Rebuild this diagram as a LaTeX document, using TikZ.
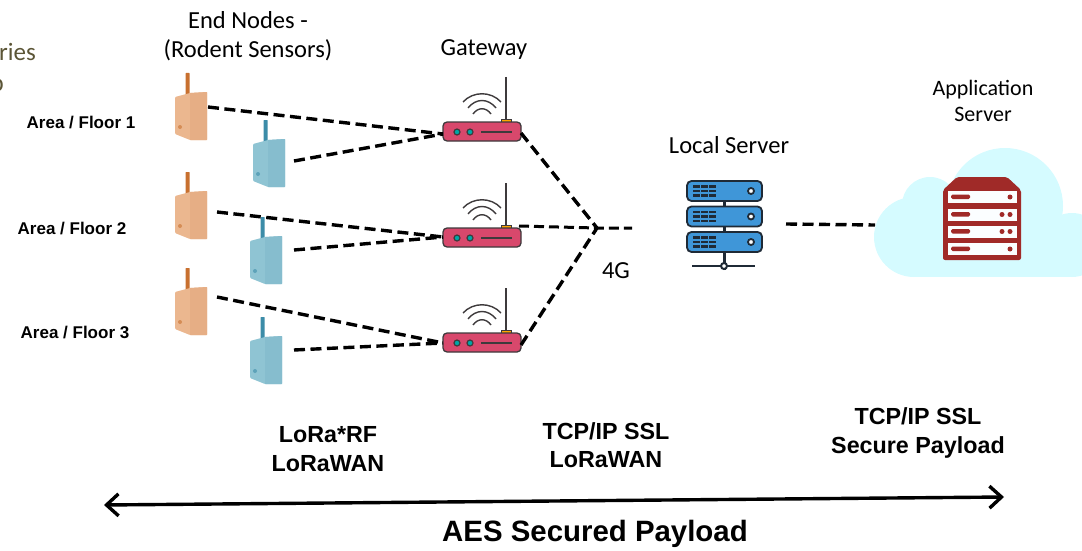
\documentclass[tikz,border=0pt]{standalone}
\usepackage{fontspec}
\setmainfont{Carlito}
\newfontfamily\boldfam{Liberation Sans}[BoldFont={Liberation Sans Bold}]
\usetikzlibrary{arrows.meta}
\definecolor{olive}{HTML}{5B5536}
\definecolor{orbody}{HTML}{EBB78F}
\definecolor{orside}{HTML}{E6AE85}
\definecolor{orant}{HTML}{C8702F}
\definecolor{blbody}{HTML}{8FC4D3}
\definecolor{blside}{HTML}{86BDCE}
\definecolor{blant}{HTML}{3C8CA8}
\definecolor{rtbody}{HTML}{D8486C}
\definecolor{rtdark}{HTML}{3E3A3C}
\definecolor{srvblue}{HTML}{3F96D8}
\definecolor{srvdark}{HTML}{1F2A36}
\definecolor{cloudc}{HTML}{D5FBFF}
\definecolor{srvred}{HTML}{A02A28}
\tikzset{
  x=1pt,y=-1pt,
  link/.style={draw=black,line width=3.4pt,dash pattern=on 11pt off 5.5pt},
  thinlink/.style={draw=black,line width=3pt,dash pattern=on 10pt off 5pt},
  lab/.style={font=\fontsize{24.5}{29}\selectfont,align=center,text=black},
  arealab/.style={font=\boldfam\fontsize{17}{20}\selectfont\bfseries,text=black},
  boldlab/.style={font=\boldfam\fontsize{23.3}{28.5}\selectfont\bfseries,align=center,text=black},
  pics/sensor/.style n args={3}{code={
    \fill[#3,rounded corners=0.5pt] (11.5,-19) rectangle (15.5,5);
    \fill[#1,rounded corners=1pt] (1,5) -- (16,1) -- (33,0) -- (33,48) -- (16,48) -- (1,42) -- cycle;
    \fill[#2] (16,1) -- (33,0) -- (33,48) -- (16,48) -- cycle;
    \fill[#3!60!#1] (6,35) circle (2);
  }},
  pics/router/.style={code={
    \draw[rtdark,line width=2pt] (63,-45) -- (63,-2);
    \fill[orange!70!yellow,draw=rtdark,line width=0.4pt] (58,-3) rectangle (68,1);
    \fill[rtbody,draw=rtdark,line width=1.3pt,rounded corners=4pt] (0,0) rectangle (78,19);
    \foreach \xx in {14,27}{\fill[teal!70!cyan,draw=rtdark,line width=1.2pt] (\xx,10) circle (3);}
    \draw[rtdark,line width=2pt] (38,10) -- (69,10);
    \draw[rtdark,line width=1.4pt] (20,-20) .. controls (30,-31) and (48,-31) .. (58,-20);
    \draw[rtdark,line width=1.4pt] (25,-14) .. controls (33,-24) and (45,-24) .. (53,-14);
    \draw[rtdark,line width=1.4pt] (30,-8) .. controls (35,-15) and (43,-15) .. (48,-8);
  }},
  pics/srvunit/.style={code={
    \fill[srvblue,draw=srvdark,line width=1.8pt,rounded corners=4.5pt] (0,0) rectangle (75,20);
    \foreach \yy in {5.5,10,14.5}{\foreach \xx in {6,14,22}{\fill[srvdark] (\xx,\yy-1.2) rectangle (\xx+7,\yy+1.2);}}
    \fill[white,draw=srvdark,line width=1.8pt] (64,10) circle (3);
  }}
}
\begin{document}
\begin{tikzpicture}
\useasboundingbox (0,0) rectangle (1082,551);
% cropped slide text
\node[anchor=base east,text=olive,font=\fontsize{25}{30}\selectfont,inner sep=0pt] (title1) at (36,61) {ries};
\node[anchor=base east,text=olive,font=\fontsize{25}{30}\selectfont,inner sep=0pt] (title2) at (4,92) {p};
% titles
\node[lab] (endnodes) at (248,36) {End Nodes -\\(Rodent Sensors)};
\node[lab] (gwlab) at (484,50) {Gateway};
\node[lab] (lslab) at (729,145) {Local Server};
\node[lab,font=\fontsize{22}{26}\selectfont] (aslab) at (983,101) {Application\\Server};
\node[lab] (fg) at (616,271) {4G};
\node[arealab] (a1) at (81,123) {Area / Floor 1};
\node[arealab] (a2) at (72,229) {Area / Floor 2};
\node[arealab] (a3) at (75,333) {Area / Floor 3};
\node[boldlab] (b1) at (328,449) {LoRa*RF\\LoRaWAN};
\node[boldlab] (b2) at (606,445) {TCP/IP SSL\\LoRaWAN};
\node[boldlab] (b3) at (918,433) {TCP/IP SSL\\Secure Payload};
\node[font=\boldfam\fontsize{29.4}{34}\selectfont\bfseries] (aes) at (595,534) {AES Secured Payload};
% sensors
\pic at (174,92) {sensor={orbody}{orside}{orant}};
\pic at (174,191) {sensor={orbody}{orside}{orant}};
\pic at (174,287) {sensor={orbody}{orside}{orant}};
\pic at (252,139) {sensor={blbody}{blside}{blant}};
\pic at (249,236) {sensor={blbody}{blside}{blant}};
\pic at (249,336) {sensor={blbody}{blside}{blant}};
% routers
\pic at (443,122) {router};
\pic at (443,228) {router};
\pic at (443,333) {router};
% connection points
\coordinate (s1) at (208,107);
\coordinate (s2) at (217,212);
\coordinate (s3) at (217,297);
\coordinate (t1) at (294,161);
\coordinate (t2) at (294,250);
\coordinate (t3) at (294,350);
\coordinate (r1) at (443,134);
\coordinate (r2) at (443,237);
\coordinate (r3) at (443,343);
\coordinate (q1) at (521,133);
\coordinate (q2) at (519,226);
\coordinate (q3) at (521,345);
\coordinate (hub) at (597,228);
\coordinate (hubr) at (632,228);
\coordinate (ls) at (786,224);
\coordinate (as) at (875,225);
\draw[link] (s1) -- (r1);
\draw[link] (t1) -- (r1);
\draw[link] (s2) -- (r2);
\draw[link] (t2) -- (r2);
\draw[link] (s3) -- (r3);
\draw[link] (t3) -- (r3);
\draw[link] (q1) -- (hub);
\draw[link] (q3) -- (hub);
\draw[thinlink] (q2) -- (hub) -- (hubr);
% local server
\fill[srvdark] (723,195) rectangle (725.5,270);
\pic at (687,181) {srvunit};
\pic at (687,206.5) {srvunit};
\pic at (687,232) {srvunit};
\draw[srvdark,line width=2pt] (692,266) -- (755,266);
\fill[white,draw=srvdark,line width=2pt] (724,266) circle (3);
% cloud
\fill[cloudc] (1005,206) circle (58);
\fill[cloudc] (930,205) circle (28);
\fill[cloudc] (914,237) circle (40);
\fill[cloudc] (1072,245) circle (32);
\fill[cloudc] (914,215) rectangle (1072,277);
% application server
\fill[srvred,rounded corners=2pt] (943,190) -- (957,177) -- (1007,177) -- (1021,190) -- (1021,260) -- (943,260) -- cycle;
\foreach \yy/\dd in {191/1,208.5/2,225.5/2,243/1}{
  \fill[white!90!cloudc] (948,\yy) rectangle (1017,\yy+12);
  \fill[srvred,rounded corners=1.5pt] (951,\yy+3.5) rectangle (970,\yy+8);
  \fill[srvred] (1010,\yy+6) circle (2.5);
  \ifnum\dd=2 \fill[srvred] (1002,\yy+6) circle (2.5);\fi
}
\draw[link] (ls) -- (as);
% bottom arrow
\coordinate (al) at (104,505);
\coordinate (ar) at (1004,497);
\draw[line width=3.4pt,{Straight Barb[length=12pt,width=22pt]}-{Straight Barb[length=12pt,width=22pt]}] (al) -- (ar);
\end{tikzpicture}
\end{document}
